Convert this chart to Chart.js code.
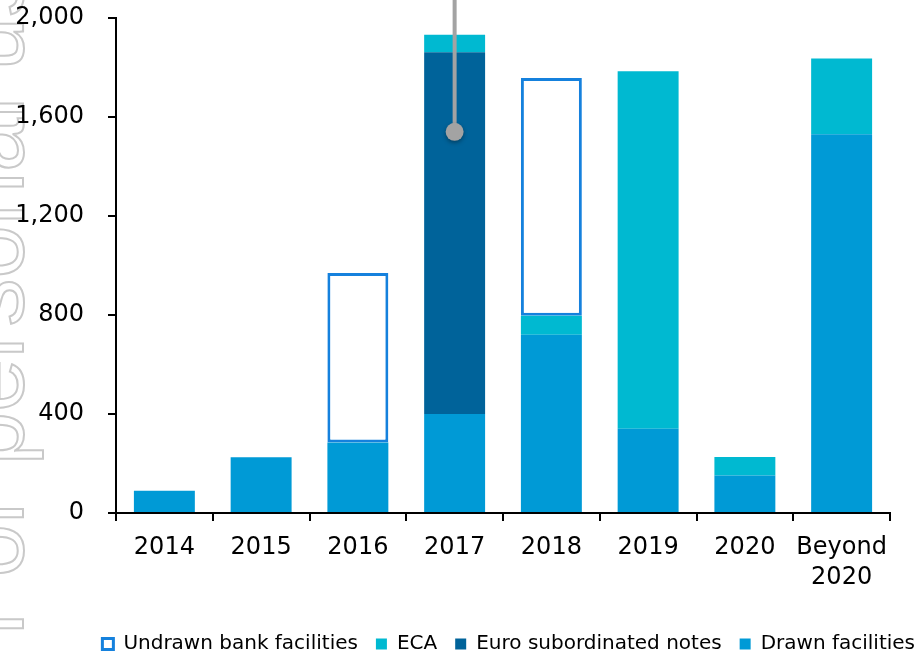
<!DOCTYPE html>
<html>
<head>
<meta charset="utf-8">
<script src="https://cdn.jsdelivr.net/npm/chart.js@4.4.1/dist/chart.umd.min.js"></script>
<style>
  html, body { margin: 0; padding: 0; background: #fff; }
  #wrap { width: 917px; height: 653px; position: relative; }
</style>
</head>
<body>
<div id="wrap"><canvas id="chart"></canvas></div>
<script>
// Maturity profile
const categories = ["2014", "2015", "2016", "2017", "2018", "2019", "2020", ["Beyond", "2020"]];
const drawnFacilities = [90, 225, 285, 400, 720, 340, 152, 1530];
const euroNotes = [null, null, null, 1462, null, null, null, null];
const eca = [null, null, null, 70, 77, 1445, 74, 306];
const undrawnFacilities = [null, null, 685, null, 961, null, null, null];
const yTicks = [0, 400, 800, 1200, 1600, 2000];

// grey pin marker on the 2017 bar
const pinIndex = 3;
const pinValue = 1540;

const watermarkText = "For personal use";

// faint outlined watermark on the left side
const watermark = {
  id: "watermark",
  beforeDraw(chart) {
    const ctx = chart.ctx;
    ctx.save();
    ctx.fillStyle = "#fff";
    ctx.fillRect(0, 0, chart.width, chart.height);
    ctx.translate(23, 636);
    ctx.rotate(-Math.PI / 2);
    ctx.font = "96px 'Liberation Sans', Arial, sans-serif";
    ctx.textBaseline = "alphabetic";
    ctx.strokeStyle = "#c9c9c9";
    ctx.lineWidth = 2;
    ctx.strokeText(watermarkText, 0, 0);
    ctx.restore();
  }
};

// legend sits lower and further right than the layout gives it
const legendShift = {
  id: "legendShift",
  afterLayout(chart) {
    const lg = chart.legend;
    lg.top += 11;
    lg.bottom += 11;
    lg.left += 43;
    lg.right += 43;
  }
};

// pin line + dot, positioned through the scales
const pin = {
  id: "pin",
  afterDatasetsDraw(chart) {
    const ctx = chart.ctx;
    const x = chart.scales.x.getPixelForValue(pinIndex);
    const y = chart.scales.y.getPixelForValue(pinValue);
    ctx.save();
    ctx.strokeStyle = "#a3a3a3";
    ctx.lineWidth = 4;
    ctx.beginPath();
    ctx.moveTo(x, 0);
    ctx.lineTo(x, y);
    ctx.stroke();
    ctx.shadowColor = "rgba(0,0,0,0.35)";
    ctx.shadowBlur = 4;
    ctx.shadowOffsetY = 2;
    ctx.fillStyle = "#a3a3a3";
    ctx.beginPath();
    ctx.arc(x, y, 9, 0, Math.PI * 2);
    ctx.fill();
    ctx.restore();
  }
};

const ctx = document.getElementById("chart").getContext("2d");
new Chart(ctx, {
  type: "bar",
  data: {
    labels: categories,
    datasets: [
      {
        label: "Drawn facilities",
        data: drawnFacilities,
        backgroundColor: "#009ad6",
        borderWidth: 0
      },
      {
        label: "Euro subordinated notes",
        data: euroNotes,
        backgroundColor: "#00639a",
        borderWidth: 0
      },
      {
        label: "ECA",
        data: eca,
        backgroundColor: "#00b9d1",
        borderWidth: 0
      },
      {
        label: "Undrawn bank facilities",
        data: undrawnFacilities,
        backgroundColor: "#ffffff",
        borderColor: "#1581dd",
        borderWidth: 3,
        borderSkipped: false
      }
    ]
  },
  options: {
    responsive: true,
    maintainAspectRatio: false,
    animation: false,
    layout: { padding: { top: 18, right: 27, left: 0, bottom: 0 } },
    datasets: {
      bar: { barPercentage: 0.63, categoryPercentage: 1 }
    },
    plugins: {
      tooltip: { enabled: false },
      legend: {
        position: "bottom",
        align: "end",
        reverse: true,
        labels: {
          color: "#000",
          font: { family: "'DejaVu Sans', Verdana, sans-serif", size: 20 },
          boxWidth: 11,
          boxHeight: 11,
          padding: 18
        }
      }
    },
    scales: {
      x: {
        stacked: true,
        grid: {
          offset: true,
          drawOnChartArea: false,
          drawTicks: true,
          tickLength: 8,
          color: "#000",
          lineWidth: 2
        },
        border: { display: true, color: "#000", width: 2 },
        ticks: {
          color: "#000",
          padding: 12,
          maxRotation: 0,
          font: { family: "'DejaVu Sans', Verdana, sans-serif", size: 24, lineHeight: 1.25 }
        },
        afterFit(scale) {
          scale.paddingLeft = 0;
          scale.paddingRight = 0;
        }
      },
      y: {
        stacked: true,
        min: 0,
        max: 2000,
        afterBuildTicks(scale) {
          scale.ticks = yTicks.map(v => ({ value: v }));
        },
        grid: {
          drawOnChartArea: false,
          drawTicks: true,
          tickLength: 8,
          color: "#000",
          lineWidth: 2
        },
        border: { display: true, color: "#000", width: 2 },
        ticks: {
          color: "#000",
          padding: 24,
          font: { family: "'DejaVu Sans', Verdana, sans-serif", size: 24 },
          callback: v => v.toLocaleString("en-US")
        },
        afterFit(scale) {
          scale.width = 116;
          scale.paddingTop = 0;
          scale.paddingBottom = 0;
        }
      }
    }
  },
  plugins: [watermark, legendShift, pin]
});
</script>
</body>
</html>
